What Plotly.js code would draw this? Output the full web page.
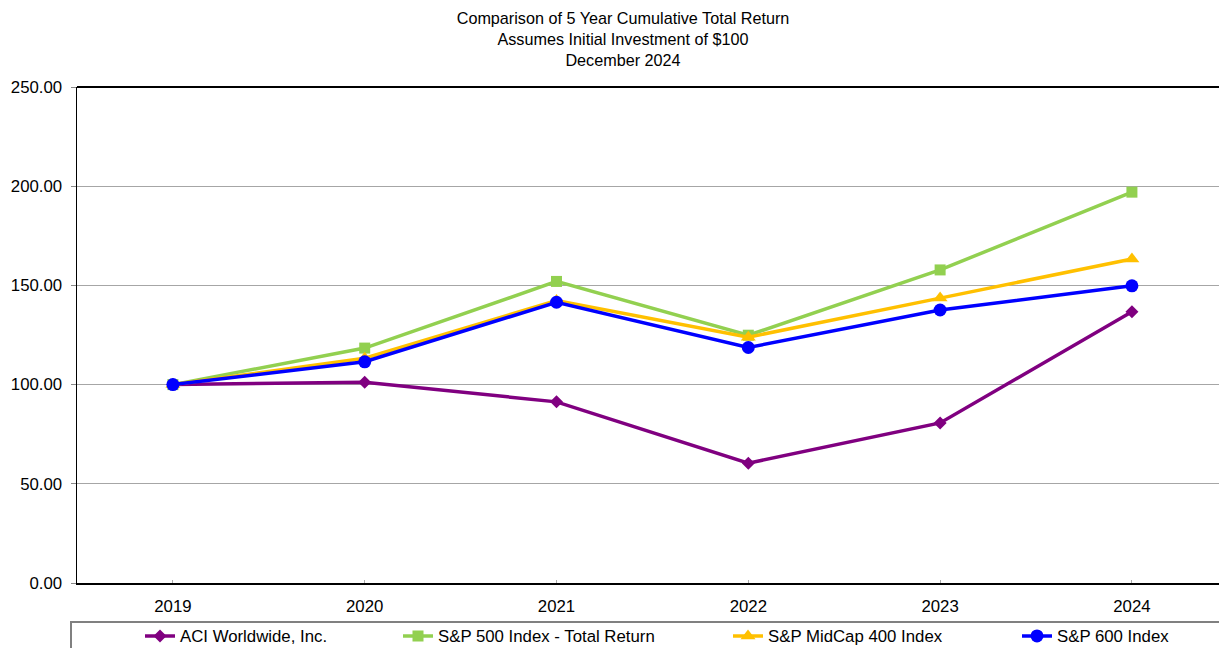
<!DOCTYPE html>
<html>
<head>
<meta charset="utf-8">
<script src="https://cdn.plot.ly/plotly-3.0.1.min.js"></script>
<style>html,body{margin:0;padding:0;background:#fff;}#chart{width:1219px;height:648px;}</style>
</head>
<body>
<div id="chart"></div>
<script>
const years = ["2019", "2020", "2021", "2022", "2023", "2024"];
const aciWorldwide = [100.00, 101.2, 91.3, 60.4, 80.7, 136.7];
const sp500 = [100.00, 118.4, 152.0, 124.9, 157.8, 197.0];
const spMidCap400 = [100.00, 113.3, 142.4, 123.9, 143.6, 163.3];
const sp600 = [100.00, 111.5, 141.5, 118.7, 137.6, 149.8];
const seriesNames = ["ACI Worldwide, Inc.", "S&P 500 Index - Total Return", "S&P MidCap 400 Index", "S&P 600 Index"];
const yTicks = [0, 50, 100, 150, 200, 250];

const font = "Liberation Sans, Arial, sans-serif";
const W = 1219, H = 648;

function trace(name, y, color, symbol, size, legend) {
  return {
    x: years, y: y, name: name, type: 'scatter', mode: 'lines+markers',
    line: {color: color, width: 3.5},
    marker: {color: color, symbol: symbol, size: size},
    legend: legend
  };
}

const data = [
  trace(seriesNames[0], aciWorldwide, '#800080', 'diamond', 10, 'legend'),
  trace(seriesNames[1], sp500, '#92D050', 'square', 11, 'legend2'),
  trace(seriesNames[2], spMidCap400, '#FFC000', 'triangle-up', 13, 'legend3'),
  trace(seriesNames[3], sp600, '#0000FF', 'circle', 13, 'legend4')
];

function leg(px) {
  return {
    xref: 'container', yref: 'container', x: px / W, y: 1 - 636 / H,
    xanchor: 'left', yanchor: 'middle', orientation: 'h',
    bgcolor: 'rgba(0,0,0,0)', borderwidth: 0,
    font: {family: font, size: 16.8, color: '#000'},
    itemwidth: 30, tracegroupgap: 0
  };
}

const layout = {
  width: W, height: H,
  paper_bgcolor: '#fff', plot_bgcolor: '#fff',
  margin: {l: 77, r: 0, t: 87, b: 65, pad: 0},
  font: {family: font, size: 16.8, color: '#000'},
  title: {
    text: 'Comparison of 5 Year Cumulative Total Return<br>Assumes Initial Investment of $100<br>December 2024',
    font: {family: font, size: 16.2, color: '#000'},
    xref: 'container', x: 623 / W, xanchor: 'center',
    yref: 'container', y: 1 - 23.5 / H, yanchor: 'middle'
  },
  xaxis: {
    type: 'category', range: [-0.5, 5.454],
    showgrid: false, zeroline: false,
    showline: true, linecolor: '#000', linewidth: 1.5,
    ticks: 'inside', ticklen: 3, tickcolor: '#aaa', tickwidth: 1,
    ticklabelstandoff: 7,
    tickfont: {family: font, size: 16.8, color: '#000'}
  },
  yaxis: {
    range: [0, 250], tickvals: yTicks, tickformat: '.2f',
    showgrid: true, gridcolor: '#a6a6a6', gridwidth: 1,
    zeroline: false,
    showline: true, linecolor: '#000', linewidth: 1.5,
    ticks: 'outside', ticklen: 5, tickcolor: '#888', tickwidth: 1,
    ticklabelstandoff: 5,
    tickfont: {family: font, size: 16.8, color: '#000'}
  },
  showlegend: true,
  legend: leg(140),
  legend2: leg(398),
  legend3: leg(728),
  legend4: leg(1017),
  shapes: [
    {type: 'line', xref: 'paper', yref: 'paper', x0: 0, x1: 1, y0: 1, y1: 1,
     line: {color: '#000', width: 2}},
    {type: 'rect', xref: 'paper', yref: 'paper',
     x0: (71 - 77) / 1142, x1: 1.05, y0: (583 - 622) / 496, y1: -0.3,
     line: {color: '#808080', width: 2}, fillcolor: 'rgba(0,0,0,0)'}
  ]
};

Plotly.newPlot('chart', data, layout, {displayModeBar: false, staticPlot: true});
</script>
</body>
</html>
